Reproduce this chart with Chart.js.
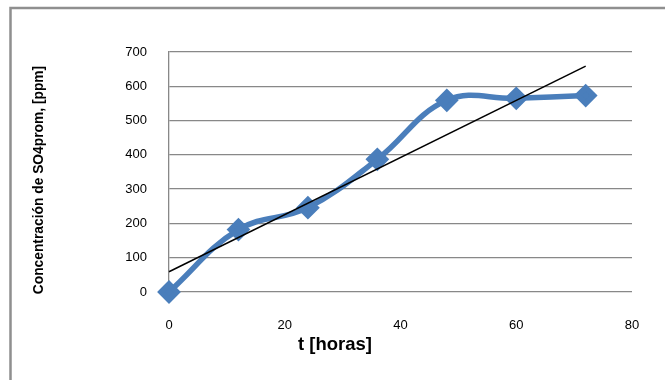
<!DOCTYPE html>
<html>
<head>
<meta charset="utf-8">
<script src="https://cdn.jsdelivr.net/npm/chart.js@4/dist/chart.umd.min.js"></script>
<style>
	html, body { margin: 0; padding: 0; background: #fff; }
	#wrap { width: 665px; height: 380px; position: relative; }
</style>
</head>
<body>
<div id="wrap"><canvas id="chart"></canvas></div>
<script>
// horas de muestreo y concentracion medida
const horas = [0, 12, 24, 36, 48, 60, 72];
const so4 = [0, 182, 246, 387, 559, 565, 573];
const xTicks = [0, 20, 40, 60, 80];
const yTicks = [0, 100, 200, 300, 400, 500, 600, 700];

const xTitle = 't [horas]';
const yTitle = 'Concentración de SO4prom, [ppm]';

// linea de tendencia lineal (minimos cuadrados) sobre los datos
function linearFit(xs, ys) {
	const n = xs.length;
	const mx = xs.reduce((a, b) => a + b, 0) / n;
	const my = ys.reduce((a, b) => a + b, 0) / n;
	let num = 0, den = 0;
	xs.forEach((x, i) => {
		num += (x - mx) * (ys[i] - my);
		den += (x - mx) * (x - mx);
	});
	const m = num / den;
	return { m: m, b: my - m * mx };
}
const fit = linearFit(horas, so4);
const trend = [horas[0], horas[horas.length - 1]].map(x => ({ x: x, y: fit.m * x + fit.b }));

const font = "'Liberation Sans', Arial, sans-serif";

// ajusta el tamaño de letra para que el texto ocupe el ancho dado
function fitText(ctx, text, width, size) {
	ctx.font = 'bold ' + size + 'px ' + font;
	const w = ctx.measureText(text).width;
	const s = Math.min(size * width / w, size * 1.25);
	ctx.font = 'bold ' + s.toFixed(1) + 'px ' + font;
	return s;
}

const frame = {
	id: 'frame',
	beforeDraw(chart) {
		const ctx = chart.ctx;
		ctx.save();
		ctx.fillStyle = '#fff';
		ctx.fillRect(0, 0, chart.width, chart.height);
		ctx.strokeStyle = '#8f8f8f';
		ctx.lineWidth = 2.5;
		ctx.beginPath();
		ctx.moveTo(10.5, chart.height + 2);
		ctx.lineTo(10.5, 8);
		ctx.lineTo(chart.width + 2, 8);
		ctx.stroke();
		ctx.restore();
	},
	afterDraw(chart) {
		const ctx = chart.ctx;
		ctx.save();
		ctx.fillStyle = '#000';
		ctx.textAlign = 'center';
		ctx.textBaseline = 'middle';
		fitText(ctx, xTitle, 74, 16);
		ctx.fillText(xTitle, 335, 345);
		ctx.translate(39, 180);
		ctx.rotate(-Math.PI / 2);
		fitText(ctx, yTitle, 234, 11);
		ctx.fillText(yTitle, 0, 0);
		ctx.restore();
	}
};

new Chart(document.getElementById('chart'), {
	type: 'scatter',
	data: {
		datasets: [
			{
				label: 'SO4',
				data: horas.map((h, i) => ({ x: h, y: so4[i] })),
				showLine: true,
				borderColor: '#4a7ebb',
				backgroundColor: '#4a7ebb',
				borderWidth: 5.5,
				tension: 0.4,
				pointStyle: 'rectRot',
				pointRadius: 8,
				pointHoverRadius: 8,
				clip: false,
				order: 2
			},
			{
				label: 'Tendencia',
				data: trend,
				showLine: true,
				borderColor: '#000',
				borderWidth: 1.5,
				pointRadius: 0,
				clip: false,
				order: 1
			}
		]
	},
	options: {
		responsive: true,
		maintainAspectRatio: false,
		animation: false,
		events: [],
		layout: { padding: { left: 0, top: 52, right: 33, bottom: 0 } },
		plugins: {
			legend: { display: false },
			tooltip: { enabled: false }
		},
		scales: {
			x: {
				type: 'linear',
				min: 0,
				max: 80,
				afterBuildTicks: s => { s.ticks = xTicks.map(v => ({ value: v })); },
				afterFit: s => { s.height = 88; },
				grid: { display: false },
				border: { display: false },
				ticks: { color: '#000', padding: 18, font: { family: font, size: 13 } }
			},
			y: {
				type: 'linear',
				min: 0,
				max: 700,
				afterBuildTicks: s => { s.ticks = yTicks.map(v => ({ value: v })); },
				afterFit: s => { s.width = 169; },
				grid: { color: '#888', lineWidth: 1.3, drawTicks: false },
				border: { display: true, color: '#888', width: 1.3 },
				ticks: { color: '#000', padding: 22, font: { family: font, size: 13 } }
			}
		}
	},
	plugins: [frame]
});
</script>
</body>
</html>
